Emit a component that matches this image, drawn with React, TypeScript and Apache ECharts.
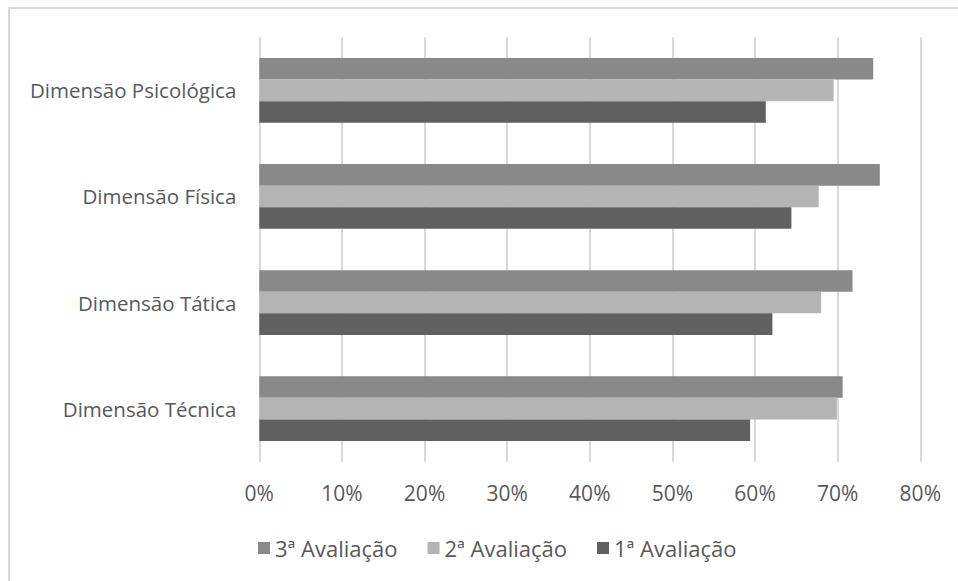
import React, { useEffect, useRef } from "react";
import * as echarts from "echarts";

const categories = ["Dimensão Técnica", "Dimensão Tática", "Dimensão Física", "Dimensão Psicológica"];
const seriesNames = ["3ª Avaliação", "2ª Avaliação", "1ª Avaliação"];
const aval3 = [70.6, 71.8, 75.1, 74.3];
const aval2 = [69.9, 68.0, 67.7, 69.5];
const aval1 = [59.4, 62.1, 64.4, 61.3];
const seriesColors = ["#898989", "#b4b4b4", "#606060"];

const FONT = "Open Sans";
const TEXT = "#595959";

export default function App() {
  const ref = useRef<HTMLDivElement>(null);
  useEffect(() => {
    document.body.style.margin = "0";
    const chart = echarts.init(ref.current!, undefined, { renderer: "svg" });
    const values = [aval3, aval2, aval1];
    chart.setOption({
      animation: false,
      backgroundColor: "#ffffff",
      textStyle: { fontFamily: FONT },
      graphic: [
        {
          type: "rect",
          shape: { x: 9, y: 8, width: 1000, height: 1000 },
          style: { fill: "none", stroke: "#d9d9d9", lineWidth: 2 },
          silent: true,
        },
      ],
      grid: { left: 259.3, right: 37.7, top: 37.3, bottom: 119.3, containLabel: false },
      legend: {
        data: seriesNames,
        left: 253,
        top: 532,
        itemWidth: 12,
        itemHeight: 12,
        itemGap: 30,
        icon: "rect",
        textStyle: { color: TEXT, fontSize: 22, fontFamily: FONT },
      },
      xAxis: {
        type: "value",
        min: 0,
        max: 80,
        interval: 10,
        axisLabel: { formatter: "{value}%", color: TEXT, fontSize: 21, fontFamily: FONT, margin: 21 },
        axisLine: { show: false },
        axisTick: { show: false },
        splitLine: { show: true, lineStyle: { color: "#d9d9d9", width: 2 } },
      },
      yAxis: {
        type: "category",
        data: categories,
        axisLabel: { color: TEXT, fontSize: 20.5, fontFamily: FONT, margin: 23 },
        axisLine: { show: false },
        axisTick: { show: false },
        splitLine: { show: false },
      },
      series: seriesNames.map((name, i) => ({
        name,
        type: "bar",
        data: values[i],
        barGap: "0%",
        barCategoryGap: "39%",
        itemStyle: { color: seriesColors[i] },
      })),
    });
    return () => chart.dispose();
  }, []);
  return <div ref={ref} style={{ width: 958, height: 581 }} />;
}
